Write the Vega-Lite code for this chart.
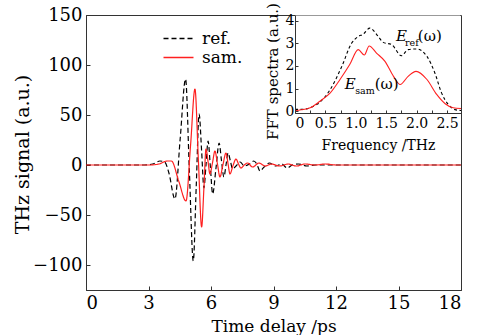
{
  "$schema": "https://vega.github.io/schema/vega-lite/v6.json",
  "width": 375,
  "height": 275,
  "autosize": {"type": "none"},
  "padding": {"left": 86, "top": 15, "right": 29, "bottom": 45},
  "config": {
    "font": "DejaVu Serif",
    "view": {"stroke": "#333", "strokeWidth": 1},
    "axis": {"grid": false, "domainColor": "#333", "tickColor": "#333", "labelColor": "black", "titleColor": "black", "labelFont": "DejaVu Serif", "titleFont": "DejaVu Serif", "titleFontWeight": "normal"},
    "legend": {"labelFont": "DejaVu Serif"}
  },
  "datasets": {
    "main": [
      {"t":0,"v":0,"s":"ref."},{"t":2.8,"v":0,"s":"ref."},{"t":3.2,"v":1,"s":"ref."},{"t":3.55,"v":4,"s":"ref."},{"t":3.78,"v":3,"s":"ref."},{"t":3.98,"v":-8,"s":"ref."},{"t":4.27,"v":-34,"s":"ref."},{"t":4.52,"v":26,"s":"ref."},{"t":4.78,"v":86,"s":"ref."},{"t":4.96,"v":-5,"s":"ref."},{"t":5.15,"v":-96,"s":"ref."},{"t":5.29,"v":-22,"s":"ref."},{"t":5.43,"v":51,"s":"ref."},{"t":5.55,"v":14,"s":"ref."},{"t":5.66,"v":-23,"s":"ref."},{"t":5.76,"v":0,"s":"ref."},{"t":5.86,"v":24,"s":"ref."},{"t":5.97,"v":-2,"s":"ref."},{"t":6.08,"v":-29,"s":"ref."},{"t":6.24,"v":-3,"s":"ref."},{"t":6.39,"v":22,"s":"ref."},{"t":6.5,"v":5,"s":"ref."},{"t":6.62,"v":-12,"s":"ref."},{"t":6.72,"v":0,"s":"ref."},{"t":6.82,"v":12,"s":"ref."},{"t":6.93,"v":4,"s":"ref."},{"t":7.04,"v":-4,"s":"ref."},{"t":7.2,"v":-1,"s":"ref."},{"t":7.4,"v":3,"s":"ref."},{"t":7.6,"v":-1,"s":"ref."},{"t":7.85,"v":1,"s":"ref."},{"t":8.05,"v":4,"s":"ref."},{"t":8.2,"v":1,"s":"ref."},{"t":8.35,"v":-6,"s":"ref."},{"t":8.55,"v":-2,"s":"ref."},{"t":8.8,"v":2,"s":"ref."},{"t":9.1,"v":-1,"s":"ref."},{"t":9.4,"v":1,"s":"ref."},{"t":9.65,"v":-3,"s":"ref."},{"t":9.9,"v":0,"s":"ref."},{"t":10.2,"v":1,"s":"ref."},{"t":10.6,"v":-1,"s":"ref."},{"t":11,"v":0,"s":"ref."},{"t":18,"v":0,"s":"ref."},
      {"t":0,"v":0,"s":"sam."},{"t":3.0,"v":0,"s":"sam."},{"t":3.5,"v":1,"s":"sam."},{"t":3.9,"v":4,"s":"sam."},{"t":4.1,"v":4,"s":"sam."},{"t":4.45,"v":-16,"s":"sam."},{"t":4.8,"v":-36,"s":"sam."},{"t":5.02,"v":20,"s":"sam."},{"t":5.23,"v":76,"s":"sam."},{"t":5.39,"v":7,"s":"sam."},{"t":5.55,"v":-62,"s":"sam."},{"t":5.66,"v":-23,"s":"sam."},{"t":5.76,"v":16,"s":"sam."},{"t":5.86,"v":3,"s":"sam."},{"t":5.95,"v":-9,"s":"sam."},{"t":6.07,"v":2,"s":"sam."},{"t":6.19,"v":14,"s":"sam."},{"t":6.31,"v":1,"s":"sam."},{"t":6.43,"v":-12,"s":"sam."},{"t":6.57,"v":0,"s":"sam."},{"t":6.72,"v":12,"s":"sam."},{"t":6.82,"v":1,"s":"sam."},{"t":6.91,"v":-9,"s":"sam."},{"t":7.05,"v":-1,"s":"sam."},{"t":7.2,"v":6,"s":"sam."},{"t":7.32,"v":1,"s":"sam."},{"t":7.43,"v":-3,"s":"sam."},{"t":7.6,"v":0,"s":"sam."},{"t":7.75,"v":2,"s":"sam."},{"t":8.0,"v":-2,"s":"sam."},{"t":8.3,"v":2,"s":"sam."},{"t":8.6,"v":-1,"s":"sam."},{"t":8.9,"v":1,"s":"sam."},{"t":9.3,"v":-1,"s":"sam."},{"t":9.7,"v":1,"s":"sam."},{"t":10.1,"v":-1,"s":"sam."},{"t":10.5,"v":1,"s":"sam."},{"t":11.0,"v":0,"s":"sam."},{"t":11.5,"v":1,"s":"sam."},{"t":12,"v":0,"s":"sam."},{"t":18,"v":0,"s":"sam."}
    ],
    "insetRef": [
      {"f":0.0,"a":0.08},{"f":0.1,"a":0.08},{"f":0.36,"a":0.3},{"f":0.58,"a":0.96},{"f":0.77,"a":1.98},{"f":0.93,"a":3.0},{"f":1.04,"a":3.3},{"f":1.12,"a":3.4},{"f":1.23,"a":3.67},{"f":1.37,"a":3.3},{"f":1.45,"a":3.04},{"f":1.59,"a":2.94},{"f":1.75,"a":2.45},{"f":1.86,"a":2.72},{"f":2.0,"a":2.75},{"f":2.17,"a":2.42},{"f":2.3,"a":1.69},{"f":2.41,"a":0.81},{"f":2.52,"a":0.3},{"f":2.63,"a":0.07},{"f":2.73,"a":0.03}
    ],
    "insetSam": [
      {"f":0.0,"a":0.02},{"f":0.1,"a":0.06},{"f":0.25,"a":0.15},{"f":0.41,"a":0.44},{"f":0.58,"a":0.81},{"f":0.74,"a":1.4},{"f":0.9,"a":2.06},{"f":1.04,"a":2.72},{"f":1.14,"a":2.48},{"f":1.22,"a":2.88},{"f":1.34,"a":2.57},{"f":1.48,"a":2.2},{"f":1.62,"a":1.54},{"f":1.73,"a":1.18},{"f":1.86,"a":1.54},{"f":1.99,"a":1.76},{"f":2.17,"a":1.4},{"f":2.33,"a":0.74},{"f":2.47,"a":0.33},{"f":2.6,"a":0.15},{"f":2.73,"a":0.12}
    ]
  },
  "layer": [
    {
      "data": {"name": "main"},
      "mark": {"type": "line", "interpolate": "monotone", "strokeWidth": 1.2},
      "encoding": {
        "x": {"field": "t", "type": "quantitative", "scale": {"domain": [0, 18], "nice": false},
          "axis": {"values": [0,3,6,9,12,15,18], "title": "Time delay /ps", "tickSize": -4, "labelPadding": 8, "labelFontSize": 18, "titleFontSize": 17, "titleY": 41, "titleBaseline": "alphabetic"}},
        "y": {"field": "v", "type": "quantitative", "scale": {"domain": [-125, 150], "nice": false, "zero": false},
          "axis": {"values": [-100,-50,0,50,100,150], "title": "THz signal (a.u.)", "tickSize": -4, "labelPadding": 8, "labelFontSize": 18, "titleFontSize": 19, "titleX": -64, "titleY": 139, "titleAngle": -90, "titleBaseline": "middle", "titleAlign": "center"}},
        "color": {"field": "s", "type": "nominal", "scale": {"domain": ["ref.", "sam."], "range": ["black", "#ff2020"]},
          "legend": {"title": null, "orient": "none", "legendX": 84, "legendY": 15, "symbolType": "M-3,0H3", "symbolSize": 100, "symbolStrokeWidth": 1.3, "labelFontSize": 17, "labelOffset": 15, "rowPadding": 1}},
        "strokeDash": {"field": "s", "type": "nominal", "scale": {"domain": ["ref.", "sam."], "range": [[5, 3], [1, 0]]},
          "legend": {"title": null, "orient": "none", "legendX": 84, "legendY": 15, "symbolType": "M-3,0H3", "symbolSize": 100, "symbolStrokeWidth": 1.3, "labelFontSize": 17, "labelOffset": 15, "rowPadding": 1}}
      }
    },
    {
      "encoding": {
        "x": {"field": "f", "type": "quantitative", "scale": {"domain": [0, 2.73], "range": [209, 375], "nice": false, "zero": false},
          "axis": {"orient": "bottom", "offset": -177, "zindex": 1, "values": [0,0.25,0.5,0.75,1,1.25,1.5,1.75,2,2.25,2.5], "labelExpr": "datum.value == 0 ? '0' : (round(datum.value*2) == datum.value*2 ? format(datum.value, '.1f') : '')", "tickSize": -3, "labelPadding": 6, "labelFontSize": 14, "title": "Frequency /THz", "titleFontSize": 14, "titleY": 36, "titleBaseline": "alphabetic", "titleX": 292}},
        "y": {"field": "a", "type": "quantitative", "scale": {"domain": [-0.08, 4.25], "range": [98, 0], "nice": false, "zero": false},
          "axis": {"orient": "left", "offset": -209, "zindex": 1, "values": [0,1,2,3,4], "tickSize": -3, "labelPadding": 4, "labelFontSize": 14, "title": "FFT spectra (a.u.)", "titleFontSize": 15, "titleX": -23, "titleY": 56, "titleAngle": -90, "titleBaseline": "middle", "titleAlign": "center"}}
      },
      "layer": [
        {
          "data": {"values": [{"f": 0, "f2": 2.72, "a": -0.08, "a2": 4.23}]},
          "mark": {"type": "rect", "fill": "white", "strokeWidth": 0},
          "encoding": {"x2": {"field": "f2"}, "y2": {"field": "a2"}}
        },
        {
          "data": {"name": "insetRef"},
          "mark": {"type": "line", "interpolate": "monotone", "stroke": "black", "strokeWidth": 1.1, "strokeDash": [3, 2.5]},
          "encoding": {}
        },
        {
          "data": {"name": "insetSam"},
          "mark": {"type": "line", "interpolate": "monotone", "stroke": "#ff2020", "strokeWidth": 1.1},
          "encoding": {}
        },
        {
          "data": {"values": [{"f": 1.66, "a": 3.11, "label": "E"}, {"f": 0.82, "a": 1.0, "label": "E"}]},
          "mark": {"type": "text", "align": "left", "baseline": "alphabetic", "fontSize": 15, "fontStyle": "italic", "font": "DejaVu Serif"},
          "encoding": {"text": {"field": "label"}}
        },
        {
          "data": {"values": [{"f": 1.81, "a": 2.89, "label": "ref"}, {"f": 0.99, "a": 0.74, "label": "sam"}]},
          "mark": {"type": "text", "align": "left", "baseline": "alphabetic", "fontSize": 9.5, "font": "DejaVu Serif"},
          "encoding": {"text": {"field": "label"}}
        },
        {
          "data": {"values": [{"f": 2.02, "a": 3.11, "label": "(ω)"}, {"f": 1.31, "a": 1.0, "label": "(ω)"}]},
          "mark": {"type": "text", "align": "left", "baseline": "alphabetic", "fontSize": 15, "font": "DejaVu Serif"},
          "encoding": {"text": {"field": "label"}}
        }
      ]
    }
  ],
  "resolve": {"scale": {"x": "independent", "y": "independent"}, "axis": {"x": "independent", "y": "independent"}}
}
